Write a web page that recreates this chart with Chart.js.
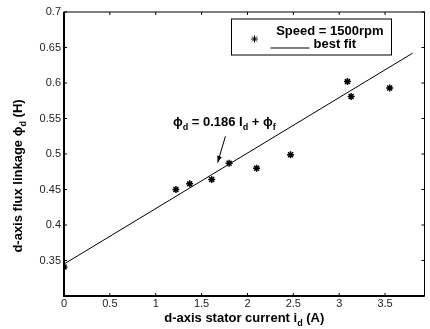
<!DOCTYPE html>
<html>
<head>
<meta charset="utf-8">
<script src="https://cdn.jsdelivr.net/npm/chart.js@4.4.1/dist/chart.umd.min.js"></script>
<style>
  html, body { margin: 0; padding: 0; background: #fff; }
  canvas { display: block; }
</style>
</head>
<body>
<canvas id="mycanvas" width="430" height="329"></canvas>
<script>
// measured points, speed = 1500rpm
var idCurrent = [0, 1.22, 1.37, 1.61, 1.80, 2.10, 2.47, 3.09, 3.13, 3.55];
var fluxLinkage = [0.341, 0.450, 0.458, 0.464, 0.487, 0.480, 0.499, 0.602, 0.581, 0.593];

// best fit line end points
var fitX = [0, 3.80];
var fitY = [0.345, 0.642];

var xTicks = [0, 0.5, 1, 1.5, 2, 2.5, 3, 3.5];
var yTicks = [0.35, 0.4, 0.45, 0.5, 0.55, 0.6, 0.65, 0.7];

var seriesLabels = ['Speed = 1500rpm', 'best fit'];

var FONT = 'Arial, "Liberation Sans", Helvetica, sans-serif';

// draw text with subscripts, parts = [[text, isSub], ...]
function richText(ctx, parts, x, y, size, align) {
	var sub = Math.round(size * 0.72);
	var w = 0;
	parts.forEach(function(p) {
		ctx.font = 'bold ' + (p[1] ? sub : size) + 'px ' + FONT;
		w += ctx.measureText(p[0]).width;
	});
	var cx = align === 'center' ? x - w / 2 : x;
	parts.forEach(function(p) {
		ctx.font = 'bold ' + (p[1] ? sub : size) + 'px ' + FONT;
		ctx.fillText(p[0], cx, p[1] ? y + size * 0.45 : y);
		cx += ctx.measureText(p[0]).width;
	});
}

var extras = {
	id: 'extras',
	afterDraw: function(chart) {
		var ctx = chart.ctx;
		var a = chart.chartArea;
		var x = chart.scales.x, y = chart.scales.y;
		ctx.save();
		ctx.strokeStyle = '#000';
		ctx.fillStyle = '#000';

		// box
		ctx.lineWidth = 1;
		ctx.strokeRect(a.left, a.top, a.right - a.left, a.bottom - a.top);
		ctx.lineWidth = 2;
		ctx.beginPath();
		ctx.moveTo(a.left, a.top);
		ctx.lineTo(a.left, a.bottom);
		ctx.lineTo(a.right, a.bottom);
		ctx.stroke();

		// inward ticks
		ctx.lineWidth = 1;
		ctx.beginPath();
		xTicks.forEach(function(v) {
			var px = x.getPixelForValue(v);
			ctx.moveTo(px, a.bottom); ctx.lineTo(px, a.bottom - 3);
			ctx.moveTo(px, a.top); ctx.lineTo(px, a.top + 3);
		});
		yTicks.forEach(function(v) {
			var py = y.getPixelForValue(v);
			ctx.moveTo(a.left, py); ctx.lineTo(a.left + 3, py);
			ctx.moveTo(a.right, py); ctx.lineTo(a.right - 3, py);
		});
		ctx.stroke();

		// axis titles
		ctx.textBaseline = 'middle';
		ctx.textAlign = 'left';
		richText(ctx, [['d-axis stator current i', false], ['d', true], [' (A)', false]],
			(a.left + a.right) / 2, 318, 13, 'center');

		ctx.save();
		ctx.translate(18, 176);
		ctx.rotate(-Math.PI / 2);
		richText(ctx, [['d-axis flux linkage ', false], ['\u03d5', false], ['d', true], [' (H)', false]],
			0, 0, 13, 'center');
		ctx.restore();

		// equation + arrow
		richText(ctx, [['\u03d5', false], ['d', true], [' = 0.186 I', false], ['d', true], [' + \u03d5', false], ['f', true]],
			x.getPixelForValue(1.187), y.getPixelForValue(0.545), 13, 'left');

		var x0 = x.getPixelForValue(1.76), y0 = y.getPixelForValue(0.525);
		var x1 = x.getPixelForValue(1.675), y1 = y.getPixelForValue(0.488);
		ctx.lineWidth = 1;
		ctx.beginPath();
		ctx.moveTo(x0, y0); ctx.lineTo(x1, y1);
		ctx.stroke();
		var ang = Math.atan2(y1 - y0, x1 - x0);
		ctx.beginPath();
		ctx.moveTo(x1, y1);
		ctx.lineTo(x1 - 7 * Math.cos(ang - 0.35), y1 - 7 * Math.sin(ang - 0.35));
		ctx.lineTo(x1 - 7 * Math.cos(ang + 0.35), y1 - 7 * Math.sin(ang + 0.35));
		ctx.closePath();
		ctx.fill();

		// legend
		var lx = a.right - 193, ly = a.top + 7;
		ctx.lineWidth = 1;
		ctx.strokeRect(lx, ly, 160, 36);
		ctx.textAlign = 'right';
		ctx.font = 'bold 13px ' + FONT;
		ctx.fillText(seriesLabels[0], lx + 152, ly + 12);
		ctx.textAlign = 'left';
		ctx.fillText(seriesLabels[1], lx + 82, ly + 25);
		Chart.helpers.drawPoint(ctx, { pointStyle: 'star', radius: 3.5, borderWidth: 1.5, rotation: 0 }, lx + 23, ly + 20);
		ctx.lineWidth = 1;
		ctx.beginPath();
		ctx.moveTo(lx + 39, ly + 29); ctx.lineTo(lx + 78, ly + 29);
		ctx.stroke();

		ctx.restore();
	}
};

var chartdata = {
	datasets: [
		{
			label: seriesLabels[0],
			data: idCurrent.map(function(v, i) { return { x: v, y: fluxLinkage[i] }; }),
			pointStyle: 'star',
			pointRadius: 3.5,
			pointBorderWidth: 1.5,
			borderColor: '#000',
			backgroundColor: '#000',
			showLine: false
		},
		{
			label: seriesLabels[1],
			data: fitX.map(function(v, i) { return { x: v, y: fitY[i] }; }),
			showLine: true,
			pointRadius: 0,
			borderWidth: 1,
			borderColor: '#000',
			fill: false
		}
	]
};

var ctx = document.getElementById('mycanvas');

var fluxChart = new Chart(ctx, {
	type: 'scatter',
	data: chartdata,
	plugins: [extras],
	options: {
		responsive: false,
		devicePixelRatio: 1,
		animation: false,
		layout: { padding: { top: 12, right: 1, left: 0, bottom: 0 } },
		plugins: {
			legend: { display: false },
			tooltip: { enabled: false }
		},
		scales: {
			x: {
				type: 'linear',
				min: 0,
				max: 3.93,
				afterBuildTicks: function(s) { s.ticks = xTicks.map(function(v) { return { value: v }; }); },
				afterFit: function(s) { s.height = 33; },
				grid: { display: false, drawTicks: false },
				border: { display: false },
				ticks: {
					padding: 1,
					color: '#222',
					font: { family: FONT, size: 11 },
					maxRotation: 0,
					callback: function(v) { return String(v); }
				}
			},
			y: {
				type: 'linear',
				min: 0.3,
				max: 0.7,
				afterBuildTicks: function(s) { s.ticks = yTicks.map(function(v) { return { value: v }; }); },
				afterFit: function(s) { s.width = 64; },
				grid: { display: false, drawTicks: false },
				border: { display: false },
				ticks: {
					padding: 3,
					color: '#222',
					font: { family: FONT, size: 11 },
					callback: function(v) { return String(v); }
				}
			}
		}
	}
});
</script>
</body>
</html>
